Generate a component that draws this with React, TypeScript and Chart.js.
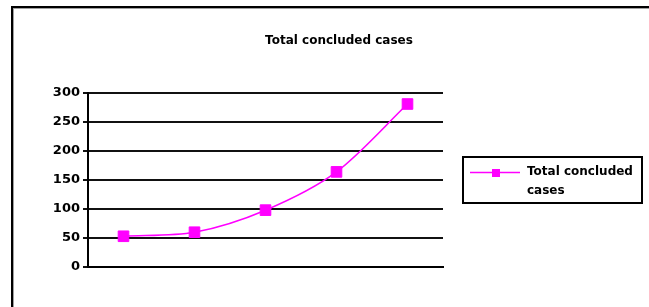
import React, { useEffect, useRef } from "react";
import { Chart, registerables } from "chart.js";

Chart.register(...registerables);

const categories = ["1", "2", "3", "4", "5"];
const seriesLabel = "Total concluded cases";
const seriesValues = [53, 60, 98, 164, 281];
const titleText = "Total concluded cases";
const legendLines = ["Total concluded", "cases"];
const yMin = 0;
const yMax = 300;
const yStep = 50;

const MAGENTA = "#FF00FF";
const FONT = "'DejaVu Sans', sans-serif";

const framePlugin = {
  id: "frame",
  beforeDraw(chart: any) {
    const ctx = chart.ctx;
    ctx.save();
    ctx.fillStyle = "#ffffff";
    ctx.fillRect(0, 0, chart.width, chart.height);
    ctx.fillStyle = "#000000";
    ctx.fillRect(11, 6, chart.width - 11, 2);
    ctx.fillRect(11, 6, 2, chart.height - 6);
    ctx.fillStyle = "#a0a0a0";
    ctx.fillRect(13, 8, chart.width - 13, 1);
    ctx.fillRect(13, 8, 1, chart.height - 8);
    ctx.restore();
  },
  afterDraw(chart: any) {
    const ctx = chart.ctx;
    ctx.save();
    ctx.fillStyle = "#000";
    ctx.font = `bold 12px ${FONT}`;
    ctx.textAlign = "center";
    ctx.textBaseline = "middle";
    ctx.fillText(titleText, 339, 41);
    const bx = 463, by = 157, bw = 179, bh = 46;
    ctx.strokeStyle = "#000";
    ctx.lineWidth = 2;
    ctx.strokeRect(bx, by, bw, bh);
    const ds = chart.data.datasets[0];
    ctx.strokeStyle = ds.borderColor;
    ctx.lineWidth = 1.5;
    ctx.beginPath();
    ctx.moveTo(470, 172.5);
    ctx.lineTo(520, 172.5);
    ctx.stroke();
    ctx.fillStyle = ds.borderColor;
    ctx.fillRect(492, 169, 8, 8);
    ctx.fillStyle = "#000";
    ctx.font = `bold 12px ${FONT}`;
    ctx.textAlign = "left";
    ctx.fillText(legendLines[0], 527, 172);
    ctx.fillText(legendLines[1], 527, 191);
    ctx.restore();
  },
};

function App() {
  const ref = useRef<HTMLCanvasElement>(null);
  useEffect(() => {
    if (!ref.current) return;
    const chart = new Chart(ref.current, {
      type: "line",
      data: {
        labels: categories,
        datasets: [
          {
            label: seriesLabel,
            data: seriesValues,
            borderColor: MAGENTA,
            backgroundColor: MAGENTA,
            borderWidth: 1.6,
            tension: 0.3,
            pointStyle: "rect",
            pointRadius: 7.5,
            pointBorderWidth: 1,
            pointBorderColor: MAGENTA,
            pointBackgroundColor: MAGENTA,
          },
        ],
      },
      options: {
        responsive: false,
        animation: false,
        devicePixelRatio: 1,
        layout: { padding: { left: 0, right: 206, top: 93, bottom: 40 } },
        plugins: {
          legend: { display: false },
          title: { display: false },
          tooltip: { enabled: false },
        },
        scales: {
          x: {
            type: "category",
            offset: true,
            ticks: { display: false },
            grid: { display: false, drawTicks: false },
            border: { display: true, color: "#000", width: 2 },
            afterFit(scale: any) {
              scale.height = 0;
            },
          },
          y: {
            min: yMin,
            max: yMax,
            ticks: {
              stepSize: yStep,
              color: "#000",
              padding: 3,
              font: { family: FONT, size: 13, weight: "bold" },
            },
            grid: {
              color: "#111",
              lineWidth: 2,
              tickLength: 5,
            },
            border: { display: true, color: "#000", width: 2 },
            afterFit(scale: any) {
              scale.width = 88;
            },
          },
        },
      },
      plugins: [framePlugin],
    });
    return () => chart.destroy();
  }, []);
  return (
    <div style={{ position: "fixed", left: 0, top: 0, width: 649, height: 307 }}>
      <canvas ref={ref} width={649} height={307} style={{ width: 649, height: 307 }} />
    </div>
  );
}

export default App;
